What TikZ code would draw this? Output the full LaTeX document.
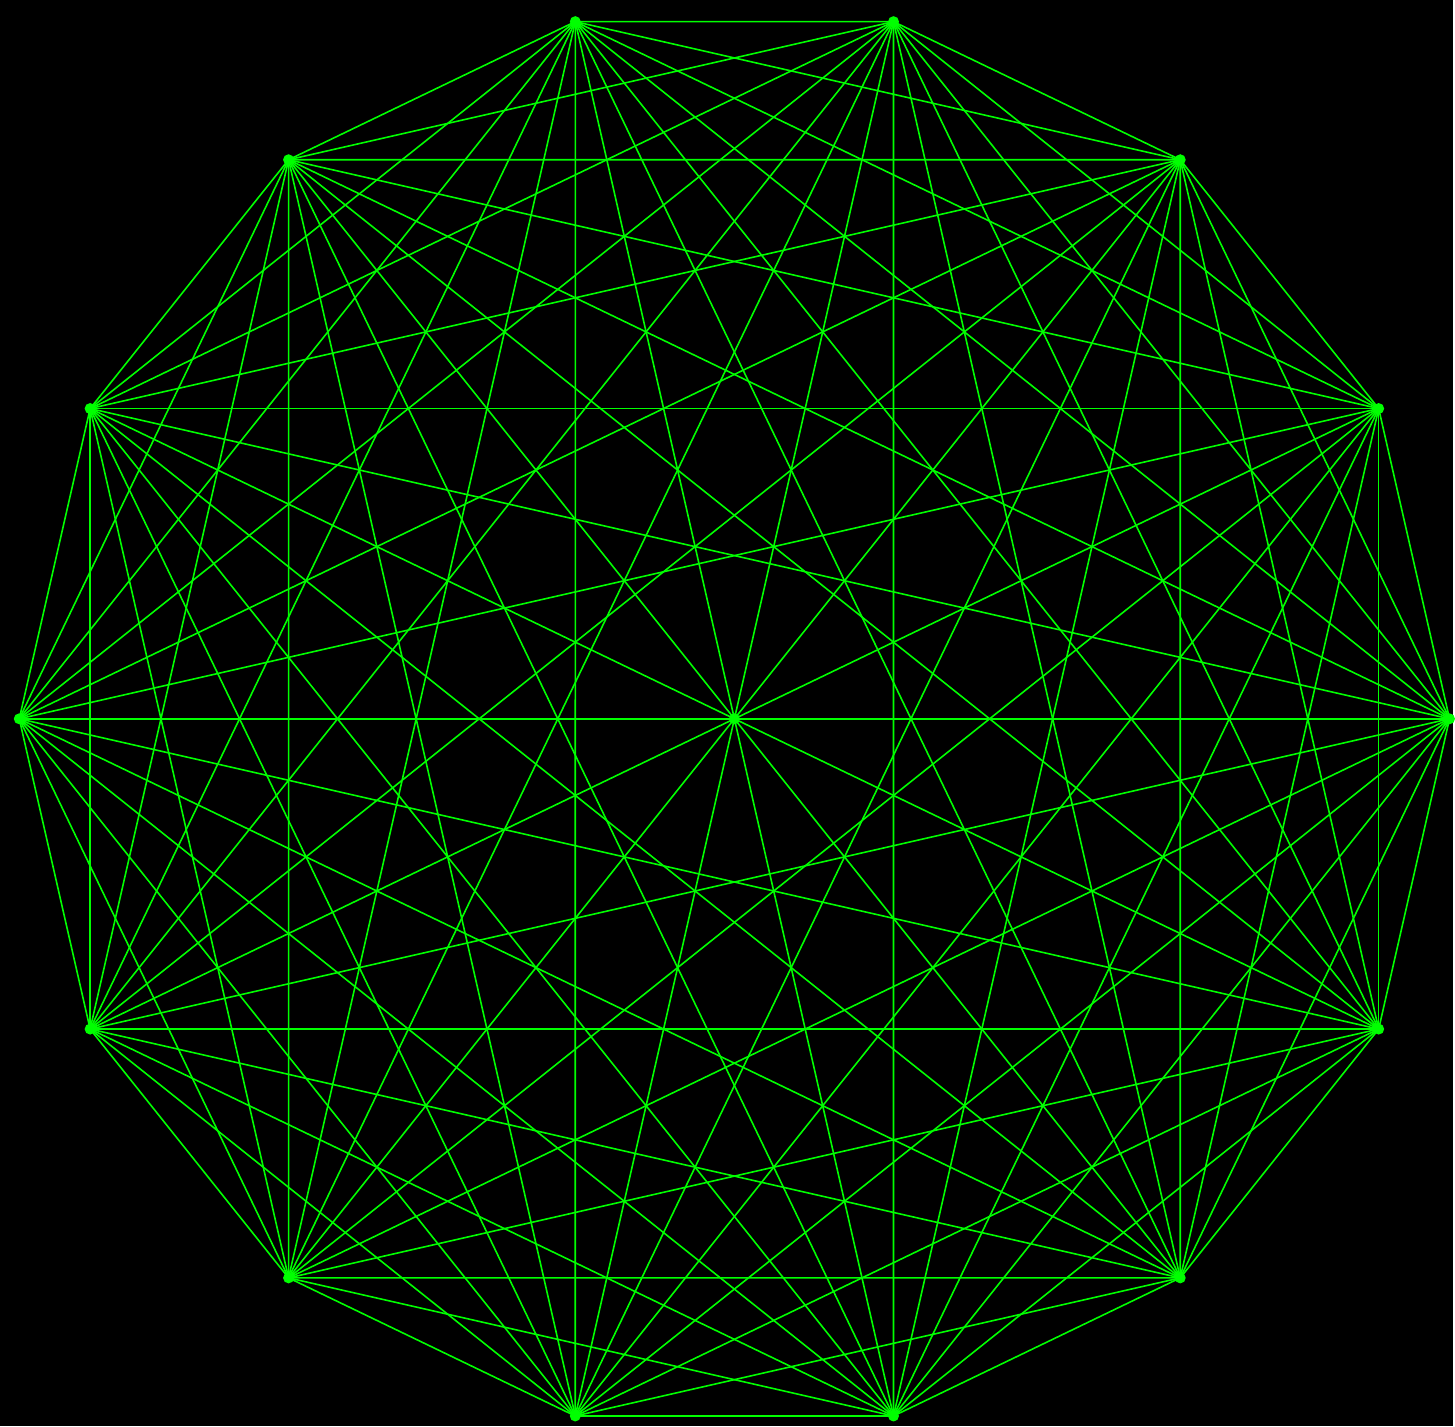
\documentclass[tikz,border=0pt]{standalone}
\usepackage{tikz}
\usetikzlibrary{calc}
\definecolor{wiregreen}{RGB}{0,255,0}

\begin{document}
\begin{tikzpicture}[
  dot/.style={circle, fill=wiregreen, inner sep=0pt, minimum size=1.1mm},
  edge/.style={draw=wiregreen, line width=0.45pt}
]
\fill[black] (0,0) rectangle (14.55,14.28);
\node[dot] (c) at (7.353,7.083) {};
\foreach \k in {0,...,13}
  \node[dot] (v\k) at ($(c)+(\k*360/14:7.16)$) {};
\foreach \i in {0,...,12} {
  \pgfmathtruncatemacro\nxt{\i+1}
  \foreach \k in {\nxt,...,13}
    \draw[edge] (v\i.center) -- (v\k.center);
}
\end{tikzpicture}
\end{document}
